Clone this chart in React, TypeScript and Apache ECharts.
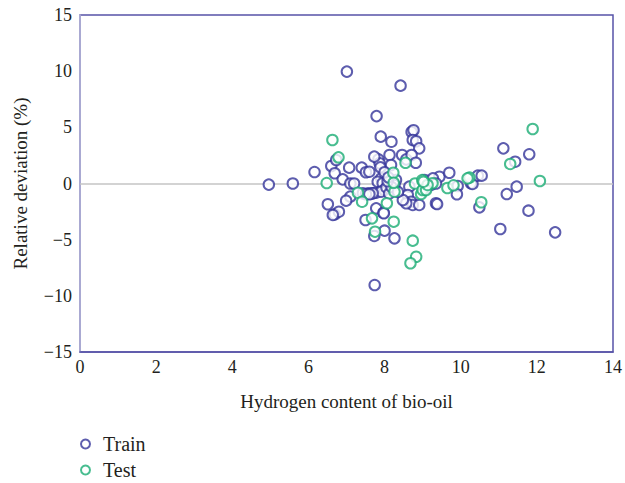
import React, { useEffect, useRef } from "react";
import * as echarts from "echarts";

const xTicks = [0, 2, 4, 6, 8, 10, 12, 14];
const yTicks = [-15, -10, -5, 0, 5, 10, 15];

const trainX = [
  4.96, 5.59, 6.16, 6.60, 6.69, 6.73, 6.90, 7.01, 7.10, 7.20, 7.07, 7.40, 7.51, 7.10, 6.99, 6.51, 6.69, 6.80,
  7.57, 7.67, 7.78, 7.78, 7.50, 7.97, 8.00, 7.73, 8.26, 7.74, 7.79, 8.42, 7.90, 8.18, 8.71, 8.76, 8.74, 8.83,
  8.91, 8.13, 7.84, 7.87, 7.89, 8.46, 8.57, 8.71, 8.82, 7.73, 8.17, 7.60, 7.91, 7.82, 7.95, 7.99, 7.91, 7.69,
  8.30, 8.26, 8.65, 8.61, 8.70, 8.74, 8.57, 8.48, 9.05, 9.22, 9.44, 9.35, 8.05, 8.12, 8.18, 8.08, 8.35, 7.43,
  7.51, 7.60, 8.00, 8.10, 10.27, 8.91, 9.07, 9.27, 9.35, 9.70, 9.92, 9.90, 9.38, 10.31, 10.45, 10.55, 10.49,
  11.12, 11.80, 11.43, 11.47, 11.21, 11.78, 11.04, 12.48, 6.64, 7.98
];
const trainY = [
  -0.10, 0.00, 1.02, 1.56, 0.91, 2.09, 0.37, 9.96, 0.00, 0.00, 1.41, 1.41, 1.00, -1.17, -1.53, -1.85, -2.75, -2.51,
  -0.88, -0.88, -0.82, -2.21, -3.25, -2.60, -4.20, -4.67, -4.88, -9.04, 6.00, 8.71, 4.17, 3.72, 4.59, 4.74, 3.87, 3.76,
  3.13, 2.54, 2.15, 1.80, 1.44, 2.54, 2.15, 2.54, 1.85, 2.39, 1.65, 1.05, 0.46, 0.16, 0.02, -0.58, -0.73, -0.87,
  0.31, -0.13, -0.28, -1.02, -1.62, -1.91, -1.76, -1.47, 0.31, -0.13, 0.60, -1.76, -0.35, -0.90, -0.30, 0.20, -0.75, -0.87,
  -0.96, -0.96, 1.00, 0.55, 0.02, -1.91, -0.50, 0.46, 0.00, 0.96, -0.22, -0.96, -1.83, -0.04, 0.70, 0.70, -2.12,
  3.13, 2.60, 1.94, -0.28, -0.94, -2.42, -4.05, -4.35, -2.80, -2.65
];

const testX = [
  6.63, 6.79, 6.48, 8.23, 8.55, 7.30, 7.41, 7.67, 8.24, 7.75, 8.74, 8.83, 8.68, 8.80, 8.99, 8.96, 8.06,
  11.89, 11.30, 12.08, 10.23, 10.54, 9.65, 9.81, 9.26, 9.00, 9.09, 8.26, 9.13, 10.18, 9.02, 8.24
];
const testY = [
  3.87, 2.33, 0.04, 0.96, 1.85, -0.82, -1.62, -3.10, -3.40, -4.29, -5.09, -6.52, -7.10, 0.00, 0.30, -0.94, -1.76,
  4.85, 1.74, 0.22, 0.52, -1.67, -0.40, -0.16, 0.02, -0.58, -0.58, -0.73, -0.13, 0.46, 0.16, 0.07
];

const FONT = "Liberation Serif";
const TEXT_COLOR = "#231f20";
const TRAIN_COLOR = "#35359a";
const TEST_COLOR = "#1aac74";
const FRAME_COLOR = "#5753a8";

const makeLegend = (name: string, top: number) => ({
  left: 75,
  top,
  itemWidth: 9,
  itemHeight: 9,
  formatter: (n: string) => `{n|${n}}`,
  textStyle: {
    fontFamily: FONT,
    fontSize: 20,
    color: TEXT_COLOR,
    rich: {
      n: {
        fontFamily: FONT,
        fontSize: 20,
        lineHeight: 18,
        color: TEXT_COLOR,
        padding: [0, 0, 0, 8],
      },
    },
  },
  data: [name],
});

export default function App() {
  const ref = useRef<HTMLDivElement>(null);
  useEffect(() => {
    if (!ref.current) return;
    const chart = echarts.init(ref.current, null, { renderer: "svg" });
    const train = trainX.map((x, i) => [x, trainY[i]]);
    const test = testX.map((x, i) => [x, testY[i]]);
    chart.setOption({
      animation: false,
      textStyle: { fontFamily: FONT },
      grid: {
        left: 80,
        right: 11,
        top: 15,
        bottom: 131,
        show: true,
        borderColor: FRAME_COLOR,
        borderWidth: 1.5,
        backgroundColor: "transparent",
      },
      legend: [makeLegend("Train", 429), makeLegend("Test", 455)],
      xAxis: {
        type: "value",
        min: xTicks[0],
        max: xTicks[xTicks.length - 1],
        interval: 2,
        name: "Hydrogen content of bio-oil",
        nameLocation: "middle",
        nameGap: 40,
        nameTextStyle: { fontFamily: FONT, fontSize: 19, color: TEXT_COLOR },
        axisLine: { show: true, onZero: false, lineStyle: { color: FRAME_COLOR, width: 1.5 } },
        axisTick: { show: false },
        splitLine: { show: false },
        axisLabel: { fontFamily: FONT, fontSize: 18, color: TEXT_COLOR, margin: 6 },
      },
      yAxis: {
        type: "value",
        min: yTicks[0],
        max: yTicks[yTicks.length - 1],
        interval: 5,
        name: "Relative deviation (%)",
        nameLocation: "middle",
        nameGap: 50,
        nameTextStyle: { fontFamily: FONT, fontSize: 19, color: TEXT_COLOR },
        axisLine: { show: true, onZero: false, lineStyle: { color: "#b9b8da", width: 1.5 } },
        axisTick: { show: false },
        splitLine: { show: false },
        axisLabel: {
          fontFamily: FONT,
          fontSize: 18,
          color: TEXT_COLOR,
          margin: 8,
          formatter: (v: number) => String(v).replace("-", "\u2212"),
        },
      },
      series: [
        {
          name: "Train",
          type: "scatter",
          symbol: "emptyCircle",
          symbolSize: 10.5,
          itemStyle: { color: TRAIN_COLOR, borderColor: TRAIN_COLOR, borderWidth: 1.3 },
          data: train,
          z: 3,
          markLine: {
            silent: true,
            symbol: "none",
            label: { show: false },
            lineStyle: { color: "#c4c4c4", width: 1.5, type: "solid" },
            data: [{ yAxis: 0 }],
            z: 1,
          },
        },
        {
          name: "Test",
          type: "scatter",
          symbol: "emptyCircle",
          symbolSize: 10.5,
          itemStyle: { color: TEST_COLOR, borderColor: TEST_COLOR, borderWidth: 1.3 },
          data: test,
          z: 4,
        },
      ],
    });
    return () => chart.dispose();
  }, []);
  return (
    <div
      ref={ref}
      style={{ position: "absolute", left: 0, top: 0, width: 625, height: 483 }}
    />
  );
}
